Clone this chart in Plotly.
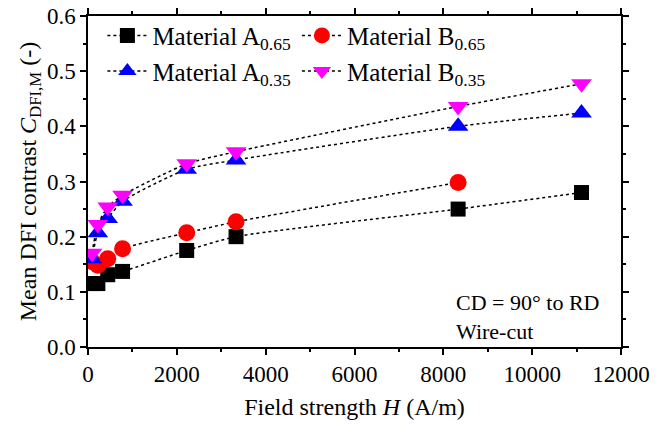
import plotly.graph_objects as go

H = [89, 222, 444, 778, 2222, 3333, 8333, 11111]
H_B065 = [89, 222, 444, 778, 2222, 3333, 8333]

A065 = [0.115, 0.115, 0.131, 0.137, 0.175, 0.200, 0.250, 0.280]
B065 = [0.155, 0.148, 0.160, 0.178, 0.207, 0.227, 0.298]
A035 = [0.160, 0.207, 0.233, 0.264, 0.322, 0.339, 0.400, 0.424]
B035 = [0.170, 0.222, 0.254, 0.275, 0.332, 0.354, 0.436, 0.477]

FONT = "Liberation Serif, Times New Roman, serif"
FS = 23

fig = go.Figure()

def add(name, x, y, symbol, color, size, legend):
    fig.add_trace(go.Scatter(
        x=x, y=y, name=name, mode="lines+markers",
        line=dict(color="black", width=1.5, dash="dot", shape="spline", smoothing=0.6),
        marker=dict(symbol=symbol, color=color, size=size, line=dict(width=0)),
        legend=legend,
    ))

add("Material A<sub>0.65</sub>", H, A065, "square", "black", 15, "legend")
add("Material B<sub>0.65</sub>", H_B065, B065, "circle", "red", 17, "legend2")
add("Material A<sub>0.35</sub>", H, A035, "triangle-up", "blue", 18, "legend")
add("Material B<sub>0.35</sub>", H, B035, "triangle-down", "magenta", 18, "legend2")

axis_common = dict(
    showline=True, linecolor="black", linewidth=1.5, mirror="allticks",
    ticks="outside", ticklen=6, tickwidth=1.5, tickcolor="black",
    showgrid=False, zeroline=False, automargin=False,
    tickfont=dict(family=FONT, size=FS, color="black"),
)

fig.update_xaxes(
    range=[0, 12000], dtick=2000, tick0=0, tickformat="d",
    minor=dict(ticks="outside", ticklen=3, tickwidth=1.5, dtick=1000, tickcolor="black"),
    title=dict(text="Field strength <i>H</i> (A/m)", font=dict(family=FONT, size=24, color="black"), standoff=12),
    **axis_common,
)
fig.update_yaxes(
    range=[0, 0.6], dtick=0.1, tick0=0, tickformat=".1f",
    minor=dict(ticks="outside", ticklen=3, tickwidth=1.5, dtick=0.05, tickcolor="black"),
    title=dict(text="Mean DFI contrast <i>C</i><sub>DFI,M</sub> (-)", font=dict(family=FONT, size=24, color="black"), standoff=4),
    **axis_common,
)

legend_common = dict(
    font=dict(family=FONT, size=25, color="black"),
    bgcolor="rgba(0,0,0,0)", xanchor="left", yanchor="top",
    itemwidth=40, tracegroupgap=0,
)
fig.update_layout(
    width=666, height=425,
    margin=dict(l=88, r=45, t=16, b=78),
    paper_bgcolor="white", plot_bgcolor="white",
    font=dict(family=FONT, size=FS, color="black"),
    legend=dict(x=0.027, y=1.01, **legend_common),
    legend2=dict(x=0.392, y=1.01, **legend_common),
    annotations=[
        dict(text="CD = 90° to RD<br>Wire-cut", x=(454 - 88) / 533, y=(347 - 346) / 331,
             xref="paper", yref="paper",
             showarrow=False, align="left", xanchor="left", yanchor="bottom",
             font=dict(family=FONT, size=22, color="black")),
    ],
)

fig.write_html("out.html", config={"displayModeBar": False},
               post_script="document.body.style.margin='0';")
